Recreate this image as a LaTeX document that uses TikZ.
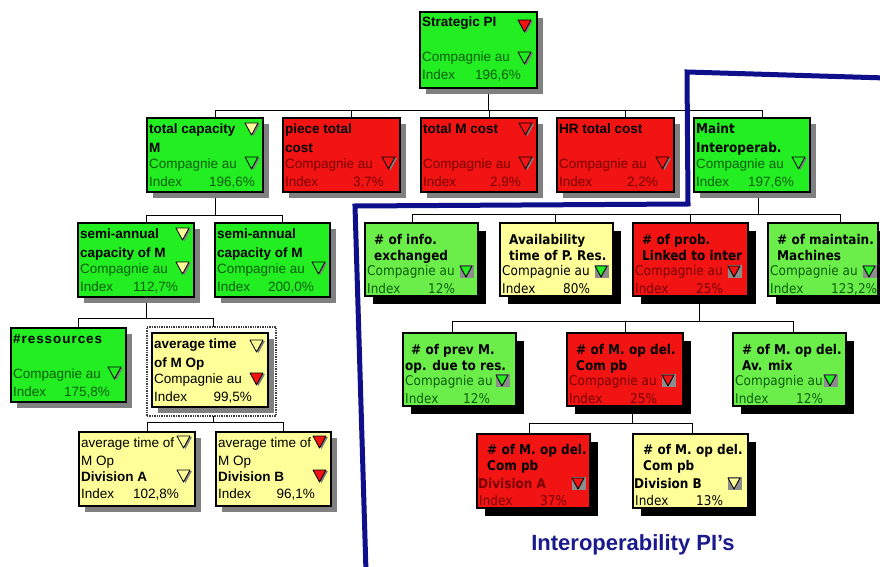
\documentclass[tikz,border=0pt]{standalone}
\usepackage{fontspec}
\setmainfont{Liberation Sans}
\newfontfamily\tahomafont[FakeStretch=0.9]{DejaVu Sans}
\usetikzlibrary{shadows,backgrounds}

\definecolor{oldgreen}{HTML}{22EE22}
\definecolor{newgreen}{HTML}{6CEE4A}
\definecolor{pired}{HTML}{F21313}
\definecolor{piyellow}{HTML}{FFFF99}
\definecolor{dkgreen}{HTML}{0B5E0B}
\definecolor{dkred}{HTML}{7A0000}
\definecolor{shadowgray}{HTML}{808080}
\definecolor{trigray}{HTML}{8C8C8C}
\definecolor{frameblue}{HTML}{0F0F8C}
\definecolor{labelblue}{HTML}{1A1A8C}

\tikzset{
  box/.style={anchor=north west, inner sep=0pt, outer sep=0pt, draw=black},
  oldbox/.style={box, line width=1.1pt, minimum width=116, minimum height=74,
    drop shadow={shadow xshift=6pt, shadow yshift=-6pt, fill=shadowgray, opacity=1}},
  newbox/.style={box, line width=1.3pt, minimum width=113, minimum height=73,
    drop shadow={shadow xshift=8pt, shadow yshift=-8pt, fill=black, opacity=1}},
  otext/.style={inner sep=0pt, font=\fontsize{13.5}{15}\selectfont},
  otitle/.style={inner sep=0pt, font=\bfseries\fontsize{13.5}{15}\selectfont},
  ntext/.style={inner sep=0pt, font=\tahomafont\fontsize{13.4}{15}\selectfont},
  ntitle/.style={inner sep=0pt, font=\tahomafont\bfseries\fontsize{13.4}{15}\selectfont},
  link/.style={draw=black, line width=0.9pt},
  selframe/.style={anchor=north west, inner sep=0pt, outer sep=0pt, draw=black!75,
    densely dotted, line width=1.4pt, minimum width=129, minimum height=89},
}

% text line placed from a box's top-left corner
\newcommand\piline[5][]{\node[anchor=base west,inner sep=0pt,#1] at ([shift={(#3,#4)}]#2.north west) {#5};}
% value placed from a box's top-right corner
\newcommand\pival[5][]{\node[anchor=base east,inner sep=0pt,#1] at ([shift={(-#3,#4)}]#2.north east) {#5};}
% trend arrow of the classic boxes
\newcommand\otri[4]{%
  \fill[shadowgray] ([shift={(-#2+2,#3+1)}]#1.north east) -- ++(13,0) -- ++(-6.5,12) -- cycle;
  \filldraw[fill=#4,draw=black,line width=0.8pt,line join=round]
    ([shift={(-#2,#3)}]#1.north east) -- ++(13,0) -- ++(-6.5,12) -- cycle;}
% trend arrow on a grey tile
\newcommand\ntri[4]{%
  \fill[trigray] ([shift={(#2,#3)}]#1.north west) rectangle ++(14,13);
  \filldraw[fill=#4,draw=black,line width=0.9pt,line join=round]
    ([shift={(#2,#3+1)}]#1.north west) -- ++(12,0) -- ++(-6,11) -- cycle;}
% classic indicator box
\newcommand\oldnode[9][]{%
  \node[oldbox,fill=#5,#1] (#2) at (#3,#4) {};
  \piline[otitle]{#2}{2}{15}{#7}
  \piline[otitle]{#2}{2}{34}{#8}
  \piline[otext,text=#6]{#2}{2}{50}{Compagnie au}
  \piline[otext,text=#6]{#2}{2}{68}{Index}
  \pival[otext,text=#6]{#2}{16}{68}{#9}}
% interoperability indicator box
\newcommand\newnode[9][]{%
  \node[newbox,fill=#5,#1] (#2) at (#3,#4) {};
  \piline[ntitle]{#2}{9}{21}{#7}
  \piline[ntitle]{#2}{9}{37}{#8}
  \piline[ntext,text=#6]{#2}{2}{52}{Compagnie au}
  \piline[ntext,text=#6]{#2}{2}{70}{Index}
  \piline[ntext,text=#6]{#2}{63}{70}{#9}}

\begin{document}
\begin{tikzpicture}[x=1pt,y=-1pt]
\useasboundingbox (0,0) rectangle (880,567);

% ---------- classic tree ----------
\oldnode[minimum width=117, minimum height=76]{sp}{420}{12}{oldgreen}{dkgreen}{Strategic PI}{}{196,6\%}
\otri{sp}{19}{8}{pired}
\otri{sp}{19}{40}{oldgreen}

\oldnode{tc}{147}{118}{oldgreen}{dkgreen}{total capacity}{M}{}
\pival[otext,text=dkgreen]{tc}{8}{68}{196,6\%}
\otri{tc}{18}{5}{piyellow}
\otri{tc}{18}{39}{oldgreen}

\oldnode[minimum width=117]{ptc}{283}{118}{pired}{dkred}{piece total}{cost}{3,7\%}
\otri{ptc}{18}{39}{pired}

\oldnode{tmc}{421}{118}{pired}{dkred}{total M cost}{}{2,9\%}
\otri{tmc}{18}{5}{pired}
\otri{tmc}{18}{39}{pired}

\oldnode[minimum width=117]{hr}{557}{118}{pired}{dkred}{HR total cost}{}{2,2\%}
\otri{hr}{18}{39}{pired}

\node[oldbox,fill=oldgreen] (mi) at (694,118) {};
\piline[ntitle]{mi}{2}{16}{Maint}
\piline[ntitle]{mi}{2}{34}{Interoperab.}
\piline[otext,text=dkgreen]{mi}{2}{50}{Compagnie au}
\piline[otext,text=dkgreen]{mi}{2}{68}{Index}
\pival[otext,text=dkgreen]{mi}{16}{68}{197,6\%}
\otri{mi}{18}{39}{oldgreen}

\oldnode{sa1}{78}{223}{oldgreen}{dkgreen}{semi-annual}{capacity of M}{112,7\%}
\otri{sa1}{18}{5}{piyellow}
\otri{sa1}{18}{39}{piyellow}

\oldnode[minimum width=115]{sa2}{215}{223}{oldgreen}{dkgreen}{semi-annual}{capacity of M}{200,0\%}
\otri{sa2}{18}{39}{oldgreen}

\oldnode[minimum width=115]{res}{11}{328}{oldgreen}{dkgreen}{\addfontfeature{LetterSpace=7}\#ressources}{}{175,8\%}
\otri{res}{18}{39}{oldgreen}

\node[selframe] (sel) at (147,327) {};
\oldnode{avg}{152}{333}{piyellow}{black}{average time}{of M Op}{99,5\%}
\otri{avg}{18}{7}{piyellow}
\otri{avg}{18}{40}{pired}

\node[oldbox,fill=piyellow] (dA) at (79,432) {};
\piline[otext]{dA}{2}{15}{average time of}
\piline[otext]{dA}{2}{33}{M Op}
\piline[otitle]{dA}{2}{49}{Division A}
\piline[otext]{dA}{2}{66}{Index}
\pival[otext]{dA}{16}{66}{102,8\%}
\otri{dA}{18}{4}{piyellow}
\otri{dA}{18}{38}{piyellow}

\node[oldbox,fill=piyellow,minimum width=115] (dB) at (216,432) {};
\piline[otext]{dB}{2}{15}{average time of}
\piline[otext]{dB}{2}{33}{M Op}
\piline[otitle]{dB}{2}{49}{Division B}
\piline[otext]{dB}{2}{66}{Index}
\pival[otext]{dB}{16}{66}{96,1\%}
\otri{dB}{18}{4}{pired}
\otri{dB}{18}{38}{pired}

% ---------- interoperability tree ----------
\newnode{r1a}{365}{223}{newgreen}{dkgreen}{\# of info.}{exchanged}{12\%}
\ntri{r1a}{95}{42}{oldgreen}
\newnode{r1b}{500}{223}{piyellow}{black}{Availability}{time of P. Res.}{80\%}
\ntri{r1b}{95}{42}{oldgreen}
\newnode[minimum width=115]{r1c}{633}{223}{pired}{dkred}{\# of prob.}{Linked to inter}{25\%}
\ntri{r1c}{95}{42}{pired}
\newnode[minimum width=110]{r1d}{768}{223}{newgreen}{dkgreen}{\# of maintain.}{Machines}{123,2\%}
\ntri{r1d}{95}{42}{oldgreen}

\node[newbox,fill=newgreen] (r2a) at (403,333) {};
\piline[ntitle]{r2a}{8}{21}{\# of prev M.}
\piline[ntitle]{r2a}{2}{37}{op. due to res.}
\piline[ntext,text=dkgreen]{r2a}{2}{52}{Compagnie au}
\piline[ntext,text=dkgreen]{r2a}{2}{70}{Index}
\piline[ntext,text=dkgreen]{r2a}{60}{70}{12\%}
\ntri{r2a}{93}{41}{oldgreen}
\newnode[minimum width=116]{r2b}{567}{333}{pired}{dkred}{\# of M. op del.}{Com pb}{25\%}
\ntri{r2b}{95}{41}{pired}
\newnode{r2c}{733}{333}{newgreen}{dkgreen}{\# of M. op del.}{Av. mix}{12\%}
\ntri{r2c}{91}{41}{oldgreen}

\node[newbox,fill=pired,minimum height=74] (r3a) at (477,434) {};
\piline[ntitle]{r3a}{10}{20}{\# of M. op del.}
\piline[ntitle]{r3a}{10}{36}{Com pb}
\piline[ntitle,text=dkred]{r3a}{1}{54}{Division A}
\piline[ntext,text=dkred]{r3a}{2}{71}{Index}
\piline[ntext,text=dkred]{r3a}{63}{71}{37\%}
\ntri{r3a}{95}{43}{pired}

\node[newbox,fill=piyellow,minimum width=115,minimum height=74] (r3b) at (633,434) {};
\piline[ntitle]{r3b}{10}{20}{\# of M. op del.}
\piline[ntitle]{r3b}{10}{36}{Com pb}
\piline[ntitle]{r3b}{1}{54}{Division B}
\piline[ntext]{r3b}{2}{71}{Index}
\piline[ntext]{r3b}{63}{71}{13\%}
\ntri{r3b}{95}{43}{piyellow}

% ---------- connectors, under the boxes ----------
\begin{pgfonlayer}{background}
\fill[white] (0,0) rectangle (880,567);
\foreach \c in {tc,ptc,tmc,hr,mi}
  \draw[link] ([xshift=10]sp.south) -- ++(0,22) -| ([xshift=10]\c.north);
\foreach \c in {sa1,sa2}
  \draw[link] ([xshift=10]tc.south) -- ++(0,23) -| ([xshift=10]\c.north);
\draw[link] ([xshift=10]sa1.south) -- ++(0,21) -| ([xshift=10]res.north);
\draw[link] ([xshift=10]sa1.south) -- ++(0,21) -| ([xshift=2]sel.north);
\foreach \c in {dA,dB}
  \draw[link] ([xshift=2]sel.south) -- ++(0,6) -| ([xshift=10]\c.north);
\foreach \c/\s in {r1a/-9,r1b/-1,r1c/0,r1d/17}
  \draw[link] ([xshift=6]mi.south) -- ++(0,22) -| ([xshift=\s]\c.north);
\foreach \c/\s in {r2a/-7,r2b/0,r2c/4}
  \draw[link] ([xshift=9]r1c.south) -- ++(0,25) -| ([xshift=\s]\c.north);
\foreach \c/\s in {r3a/-4,r3b/2}
  \draw[link] ([xshift=7]r2b.south) -- ++(0,17) -| ([xshift=\s]\c.north);
\end{pgfonlayer}

% ---------- interoperability frame ----------
\draw[frameblue, line width=5pt] (886,78) -- (687,72) -- (688,204) -- (355,206) -- (366,572);
\node[font=\bfseries\fontsize{22}{26}\selectfont, text=labelblue] (lbl) at (633,545) {Interoperability PI's};
\end{tikzpicture}
\end{document}
